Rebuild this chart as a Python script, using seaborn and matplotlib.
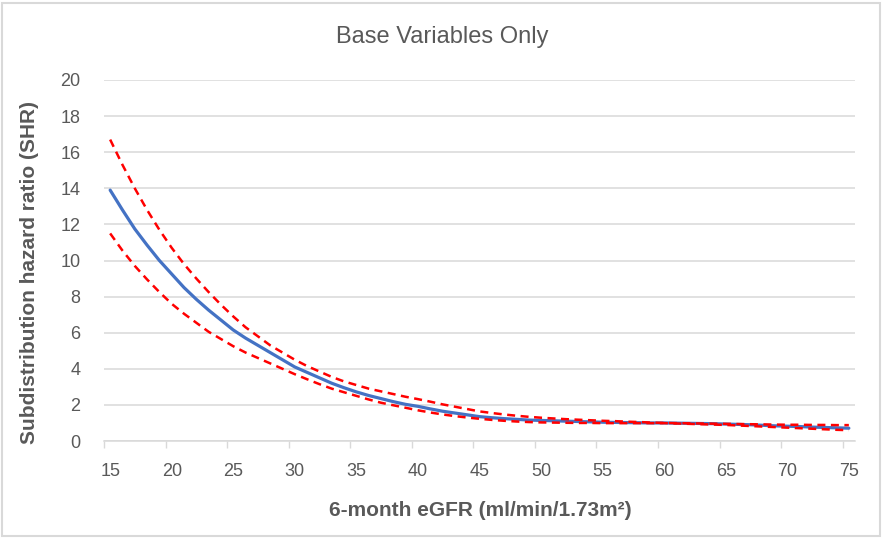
import matplotlib
matplotlib.use("Agg")
import matplotlib.pyplot as plt
import seaborn as sns
from matplotlib.patches import Rectangle

# values (one per eGFR category)
egfr = list(range(15, 76))

shr = [13.9, 12.8, 11.75, 10.85, 10.0, 9.25, 8.5, 7.85, 7.25, 6.7,
       6.15, 5.7, 5.3, 4.9, 4.5, 4.1, 3.8, 3.5, 3.2, 2.95,
       2.72, 2.52, 2.35, 2.18, 2.03, 1.92, 1.78, 1.65, 1.55, 1.45,
       1.35, 1.29, 1.24, 1.2, 1.16, 1.14, 1.12, 1.1, 1.08, 1.06,
       1.04, 1.03, 1.02, 1.01, 1.0, 1.0, 0.99, 0.98, 0.97, 0.96,
       0.94, 0.92, 0.9, 0.87, 0.84, 0.82, 0.8, 0.77, 0.75, 0.73,
       0.71]

upper = [16.7, 15.3, 14.0, 12.8, 11.7, 10.7, 9.8, 9.0, 8.25, 7.55,
         6.9, 6.3, 5.8, 5.3, 4.9, 4.5, 4.15, 3.85, 3.55, 3.3,
         3.1, 2.9, 2.75, 2.6, 2.45, 2.32, 2.18, 2.03, 1.9, 1.77,
         1.64, 1.55, 1.47, 1.4, 1.34, 1.29, 1.25, 1.21, 1.18, 1.15,
         1.12, 1.1, 1.07, 1.05, 1.02, 1.0, 0.99, 0.98, 0.97, 0.96,
         0.95, 0.94, 0.93, 0.92, 0.91, 0.9, 0.9, 0.89, 0.89, 0.88,
         0.88]

lower = [11.5, 10.55, 9.7, 8.95, 8.25, 7.6, 7.05, 6.55, 6.05, 5.65,
         5.25, 4.9, 4.6, 4.3, 4.0, 3.7, 3.42, 3.15, 2.9, 2.7,
         2.5, 2.3, 2.12, 1.98, 1.84, 1.7, 1.58, 1.47, 1.38, 1.3,
         1.23, 1.17, 1.12, 1.08, 1.05, 1.03, 1.02, 1.01, 1.0, 1.0,
         0.99, 0.99, 0.99, 0.99, 0.99, 0.99, 0.97, 0.95, 0.93, 0.91,
         0.89, 0.86, 0.83, 0.8, 0.77, 0.74, 0.71, 0.68, 0.65, 0.62,
         0.6]

x_labels = list(range(15, 80, 5))
y_ticks = list(range(0, 22, 2))

sns.set_theme(style="white")
plt.rcParams['font.family'] = ['Liberation Sans', 'DejaVu Sans']

grey_txt = '#595959'
grid_col = '#d9d9d9'

fig = plt.figure(figsize=(8.84, 5.38), dpi=100)
ax = fig.add_axes([104 / 884, 1 - 441 / 538, 751 / 884, 361 / 538])

# confidence limits (red dashed) and estimate (blue)
sns.lineplot(x=egfr, y=upper, ax=ax, color='#ff0000', lw=1.8, zorder=3)
ax.lines[-1].set_dashes((3.2, 2.2))
sns.lineplot(x=egfr, y=lower, ax=ax, color='#ff0000', lw=1.8, zorder=3)
ax.lines[-1].set_dashes((3.2, 2.2))
sns.lineplot(x=egfr, y=shr, ax=ax, color='#4472c4', lw=2.3, zorder=2)

ax.set_xlim(14.5, 75.5)
ax.set_ylim(0, 20)

ax.set_yticks(y_ticks)
ax.set_xticks(x_labels)
ax.set_xticks([v - 0.5 for v in x_labels], minor=True)
ax.tick_params(axis='y', length=0, pad=17, labelsize=13, labelcolor=grey_txt)
ax.tick_params(axis='x', which='major', length=0, pad=16, labelsize=13,
               labelcolor=grey_txt)
ax.tick_params(axis='x', which='minor', length=5, width=1, color=grid_col,
               direction='out', bottom=True)

ax.grid(axis='y', color=grid_col, lw=1.1)
ax.set_axisbelow(True)
for side in ['left', 'top', 'right']:
    ax.spines[side].set_visible(False)
ax.spines['bottom'].set_color(grid_col)
ax.spines['bottom'].set_linewidth(1.1)
ax.set_xlabel('')
ax.set_ylabel('')

fig.text(0.5, 1 - 37 / 538, 'Base Variables Only', ha='center', va='center',
         fontsize=17, color=grey_txt)
fig.text(480 / 884, 1 - 511 / 538, '6-month eGFR (ml/min/1.73m²)',
         ha='center', va='center', fontsize=15, fontweight='bold', color=grey_txt)
fig.text(30 / 884, 1 - 273 / 538, 'Subdistribution hazard ratio (SHR)',
         ha='center', va='center', rotation=90, fontsize=15,
         fontweight='bold', color=grey_txt)

fig.patches.append(Rectangle((0.002, 0.003), 0.994, 0.992, transform=fig.transFigure,
                             fill=False, edgecolor=grid_col, lw=1.5))

fig.savefig('out.png', dpi=100)
